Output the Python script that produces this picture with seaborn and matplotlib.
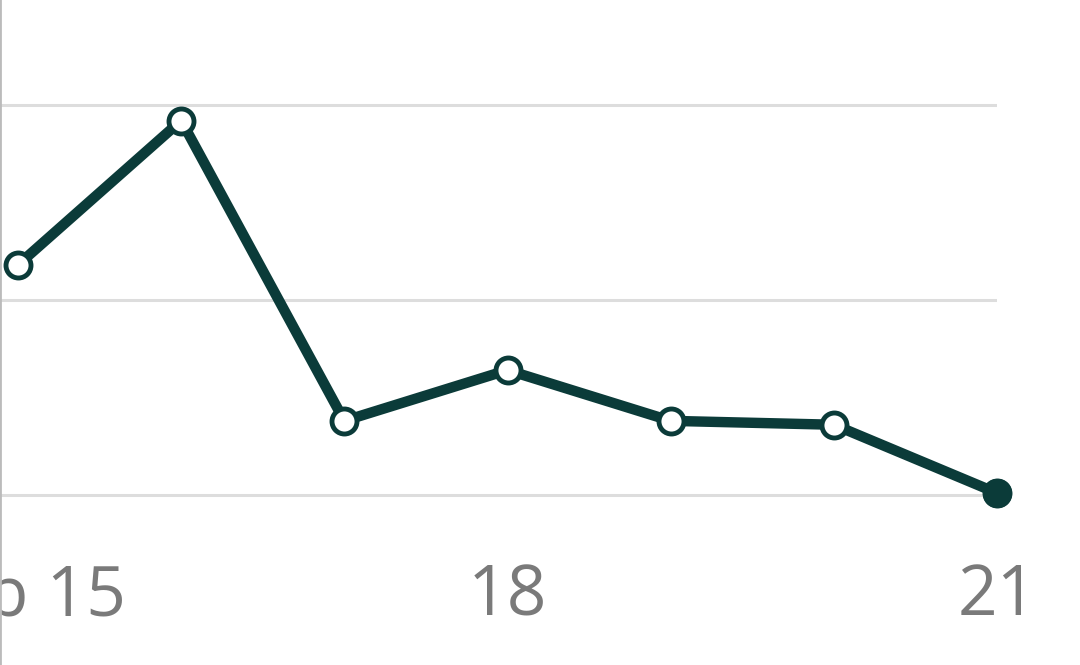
import matplotlib.pyplot as plt
import seaborn as sns
import pandas as pd

# values (no y labels shown, arbitrary units)
days = [15, 16, 17, 18, 19, 20, 21]
values = [11.8, 19.2, 3.8, 6.4, 3.8, 3.6, 0.1]
grid_levels = [0, 10, 20]
tick_days = [15, 18, 21]
tick_labels = ['Feb 15', '18', '21']

df = pd.DataFrame({'day': days, 'value': values})

sns.set_style('white')
plt.rcParams['font.family'] = ['Open Sans', 'DejaVu Sans']

line_color = '#0b3b39'

fig = plt.figure(figsize=(10.8, 6.65), dpi=100)
ax = fig.add_axes([0, 0, 997 / 1080, 1])

for g in grid_levels:
    ax.axhline(g, color='#dddddd', lw=2.2, zorder=0)

sns.lineplot(data=df, x='day', y='value', ax=ax, color=line_color, lw=7.5,
             marker='o', markersize=18, markerfacecolor='white',
             markeredgecolor=line_color, markeredgewidth=3.5, clip_on=False)
last = df.iloc[-1:]
ax.plot(last['day'], last['value'], 'o', color=line_color, markersize=20,
        clip_on=False, zorder=5)

ax.set_xlim(15 - 18 / 163, 21)
ax.set_ylim(-8.72, 25.38)
ax.set_xticks(tick_days)
ax.set_xticklabels(tick_labels, fontsize=50, color='#7a7a7a')
ax.tick_params(axis='x', length=0, pad=-74)
ax.set_yticks([])
ax.set_xlabel('')
ax.set_ylabel('')

for s in ['top', 'right', 'bottom']:
    ax.spines[s].set_visible(False)
ax.spines['left'].set_color('#bbbbbb')
ax.spines['left'].set_linewidth(2)

fig.savefig('out.png', dpi=100)
